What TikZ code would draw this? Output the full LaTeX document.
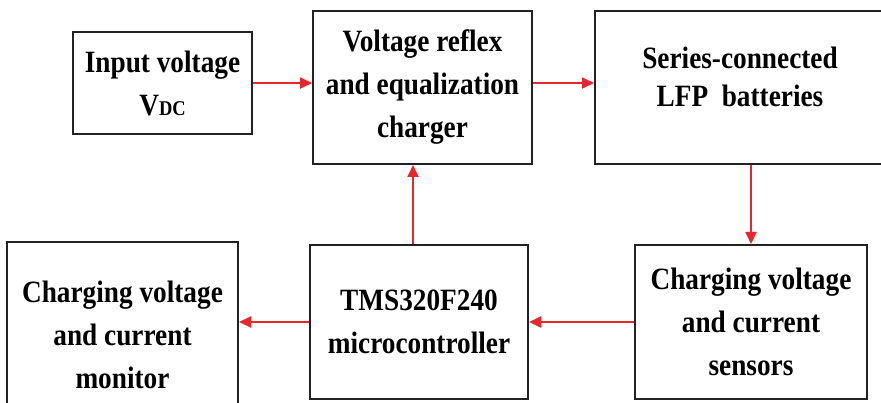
\documentclass[tikz,border=0pt]{standalone}
\usepackage{fontspec}
\setmainfont{Liberation Serif}[FakeStretch=0.88]
\usetikzlibrary{positioning,arrows.meta}
\definecolor{cRed}{HTML}{E8262B}
\definecolor{cInk}{HTML}{222222}
\tikzset{
  blk/.style={draw=cInk, line width=2pt, align=center, inner sep=0pt,
              font=\bfseries\fontsize{31}{43}\selectfont},
  ar/.style={-{Triangle[length=12pt,width=11pt]}, cRed, line width=1.8pt}
}
\begin{document}
\begin{tikzpicture}[x=1pt, y=-1pt]
\useasboundingbox (0,0) rectangle (881,403);
\clip (0,0) rectangle (881,403);
\node[blk, minimum width=219pt, minimum height=153pt] (chg) at (422.5,87.5) {Voltage reflex\\and equalization\\charger};
\node[blk, minimum width=179pt, minimum height=102pt, left=59pt of chg, yshift=4.5pt] (in) {Input voltage\\V{\fontsize{21}{21}\selectfont DC}};
\node[blk, minimum width=290pt, minimum height=153pt, right=61pt of chg, text depth=22pt,
      font=\bfseries\fontsize{31}{38}\selectfont] (bat) {Series-connected\\LFP~~batteries};
\node[blk, minimum width=232pt, minimum height=154pt] (sen) at (751,322) {Charging voltage\\and current\\sensors};
\node[blk, minimum width=218pt, minimum height=153pt, left=105pt of sen] (mcu) {TMS320F240\\microcontroller};
\node[blk, minimum width=231pt, minimum height=184pt, left=70pt of mcu, yshift=-12.5pt] (mon) {Charging voltage\\and current\\monitor};
\draw[ar] (in.east) -- (in.east -| chg.west);
\draw[ar] (chg.east |- in.east) -- (bat.west |- in.east);
\draw[ar] (sen.north |- bat.south) -- (sen.north);
\draw[ar] (sen.west) -- (sen.west -| mcu.east);
\draw[ar] (mcu.west) -- (mcu.west -| mon.east);
\draw[ar] ([xshift=-9.5pt]chg.south |- mcu.north) -- ([xshift=-9.5pt]chg.south);
\end{tikzpicture}
\end{document}
